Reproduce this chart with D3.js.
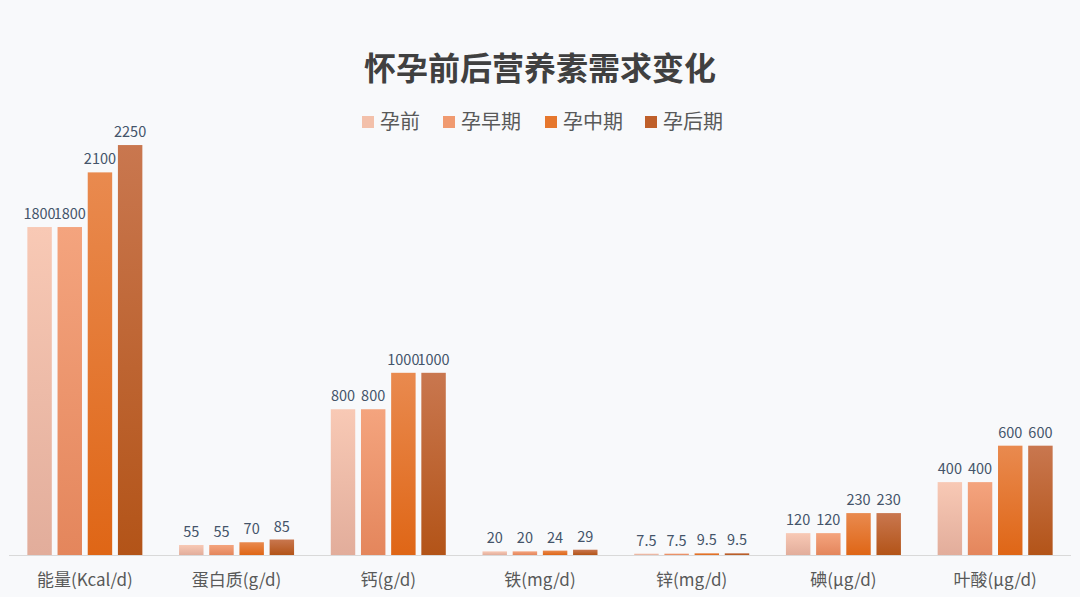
<!DOCTYPE html>
<html>
<head>
<meta charset="utf-8">
<script src="https://cdn.jsdelivr.net/npm/d3@7"></script>
<style>
  html, body { margin: 0; padding: 0; background: #f8f9fb; }
  text { font-family: "Noto Sans CJK SC", "Noto Sans", sans-serif; }
</style>
</head>
<body>
<div id="chart"></div>
<script>
// data
const categories = ['能量(Kcal/d)', '蛋白质(g/d)', '钙(g/d)', '铁(mg/d)', '锌(mg/d)', '碘(μg/d)', '叶酸(μg/d)'];
const seriesNames = ['孕前', '孕早期', '孕中期', '孕后期'];
const prePregnancy = [1800, 55, 800, 20, 7.5, 120, 400];
const earlyStage = [1800, 55, 800, 20, 7.5, 120, 400];
const midStage = [2100, 70, 1000, 24, 9.5, 230, 600];
const lateStage = [2250, 85, 1000, 29, 9.5, 230, 600];

const seriesValues = [prePregnancy, earlyStage, midStage, lateStage];
const gradStops = [['#f8c9b5', '#e2ad9b'], ['#f4a47e', '#e4865c'], ['#e98a4f', '#df6616'], ['#c9774f', '#b35418']];
const legendColors = ['#f3c0aa', '#f09a70', '#e6772d', '#bf5f2a'];

const width = 1080, height = 597;

const svg = d3.select('#chart')
    .append('svg')
    .attr('width', width)
    .attr('height', height);

svg.append('rect').attr('width', width).attr('height', height).attr('fill', '#f8f9fb');

const defs = svg.append('defs');
gradStops.forEach((s, i) => {
    let g = defs.append('linearGradient')
        .attr('id', 'grad' + i)
        .attr('x1', 0).attr('y1', 0).attr('x2', 0).attr('y2', 1);
    g.append('stop').attr('offset', '0%').attr('stop-color', s[0]);
    g.append('stop').attr('offset', '100%').attr('stop-color', s[1]);
});

let scaleX = d3.scaleBand().domain(categories).range([9, 1071]);
let scaleInner = d3.scaleBand().domain(d3.range(4)).range([0, 115]).paddingInner(0.19);
let scaleY = d3.scaleLinear().domain([0, 2500]).range([555, 99.5]);

// title
svg.append('text')
    .attr('x', width / 2)
    .attr('y', 80)
    .style('text-anchor', 'middle')
    .style('font-size', '32px')
    .style('font-weight', 'bold')
    .style('fill', '#404040')
    .text('怀孕前后营养素需求变化');

// legend
const legendX = [362, 443, 545, 645];
seriesNames.forEach((name, i) => {
    let g = svg.append('g').attr('transform', 'translate(' + legendX[i] + ',0)');
    g.append('rect').attr('x', 0).attr('y', 116).attr('width', 12).attr('height', 12).attr('fill', legendColors[i]);
    g.append('text').attr('x', 18).attr('y', 129)
        .style('font-size', '20px').style('fill', '#595959').text(name);
});

// baseline
svg.append('line')
    .attr('x1', 9).attr('x2', 1071)
    .attr('y1', scaleY(0) + 0.5).attr('y2', scaleY(0) + 0.5)
    .attr('stroke', '#d9d9d9').attr('stroke-width', 1);

const groups = svg.selectAll('.grp')
    .data(categories)
    .enter()
    .append('g')
    .attr('class', 'grp')
    .attr('transform', d => 'translate(' + (scaleX(d) + scaleX.bandwidth() / 2 - 57.5) + ',0)');

groups.each(function(cat, ci) {
    let g = d3.select(this);
    seriesValues.forEach((vals, si) => {
        let v = vals[ci];
        g.append('rect')
            .attr('x', scaleInner(si))
            .attr('y', scaleY(v))
            .attr('width', scaleInner.bandwidth())
            .attr('height', scaleY(0) - scaleY(v))
            .attr('fill', 'url(#grad' + si + ')');
        g.append('text')
            .attr('x', scaleInner(si) + scaleInner.bandwidth() / 2)
            .attr('y', scaleY(v) - 8)
            .style('text-anchor', 'middle')
            .style('font-size', '14.5px')
            .style('fill', '#44546a')
            .text(v);
    });
});

// category labels
svg.selectAll('.cat')
    .data(categories)
    .enter()
    .append('text')
    .attr('class', 'cat')
    .attr('x', d => scaleX(d) + scaleX.bandwidth() / 2)
    .attr('y', 586)
    .style('text-anchor', 'middle')
    .style('font-size', '17px')
    .style('fill', '#595959')
    .text(d => d);
</script>
</body>
</html>
